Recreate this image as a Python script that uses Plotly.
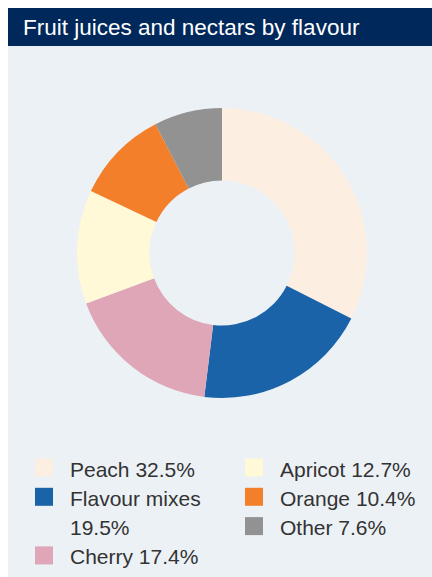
import plotly.graph_objects as go

# Market share of fruit juices and nectars by flavour (%)
flavours = ["Peach", "Flavour mixes", "Cherry", "Apricot", "Orange", "Other"]
shares = [32.5, 19.5, 17.4, 12.7, 10.4, 7.6]
colours = ["#FDEEE2", "#1B63A8", "#DFA6B8", "#FFF9D8", "#F47F2A", "#929292"]

W, H = 432, 577
PANEL_BG = "#ECF1F6"
TITLE_BG = "#01285A"
TEXT = "#333333"
FONT = "Liberation Sans, Arial, sans-serif"


def px_x(x):
    return x / W


def px_y(y):
    return 1 - y / H


fig = go.Figure()

# donut: centre (222, 253), outer radius 145 px
cx, cy, r = 222, 253, 145
fig.add_trace(go.Pie(
    labels=flavours,
    values=shares,
    marker=dict(colors=colours, line=dict(width=0)),
    hole=0.5,
    sort=False,
    direction="clockwise",
    rotation=0,
    textinfo="none",
    hoverinfo="label+percent",
    showlegend=False,
    domain=dict(x=[px_x(cx - r), px_x(cx + r)], y=[px_y(cy + r), px_y(cy - r)]),
))

shapes = [
    # panel background
    dict(type="rect", xref="paper", yref="paper", x0=px_x(8), x1=1, y0=0, y1=px_y(8),
         fillcolor=PANEL_BG, line=dict(width=0), layer="below"),
    # title bar
    dict(type="rect", xref="paper", yref="paper", x0=px_x(8), x1=1, y0=px_y(46), y1=px_y(8),
         fillcolor=TITLE_BG, line=dict(width=0), layer="below"),
]
annotations = [
    dict(text="Fruit juices and nectars by flavour", xref="paper", yref="paper",
         x=px_x(20.5), y=px_y(27), xanchor="left", yanchor="middle", showarrow=False,
         font=dict(family=FONT, size=22.5, color="white")),
]

# two-column legend, filled column by column
col_x = [35, 245]          # left edge of swatch
first_line_y = 469         # centre of first legend line
line_pitch = 29.3
sw = 18                    # swatch size
per_col = 3
for c in range(2):
    line = 0
    for i in range(c * per_col, min((c + 1) * per_col, len(flavours))):
        name, val = flavours[i], shares[i]
        lines = [f"{name} {val}%"] if len(name) <= 10 else [name, f"{val}%"]
        y0 = first_line_y + line * line_pitch
        shapes.append(dict(type="rect", xref="paper", yref="paper",
                           x0=px_x(col_x[c]), x1=px_x(col_x[c] + sw),
                           y0=px_y(y0 + sw / 2 - 1.5), y1=px_y(y0 - sw / 2 - 1.5),
                           fillcolor=colours[i], line=dict(width=0)))
        for k, txt in enumerate(lines):
            annotations.append(dict(text=txt, xref="paper", yref="paper",
                                    x=px_x(col_x[c] + 33), y=px_y(y0 + k * line_pitch),
                                    xanchor="left", yanchor="middle", showarrow=False,
                                    font=dict(family=FONT, size=21, color=TEXT)))
        line += len(lines)

fig.update_layout(
    width=W, height=H,
    margin=dict(l=0, r=0, t=0, b=0),
    paper_bgcolor="white",
    plot_bgcolor="white",
    shapes=shapes,
    annotations=annotations,
)

fig.write_html("out.html")
